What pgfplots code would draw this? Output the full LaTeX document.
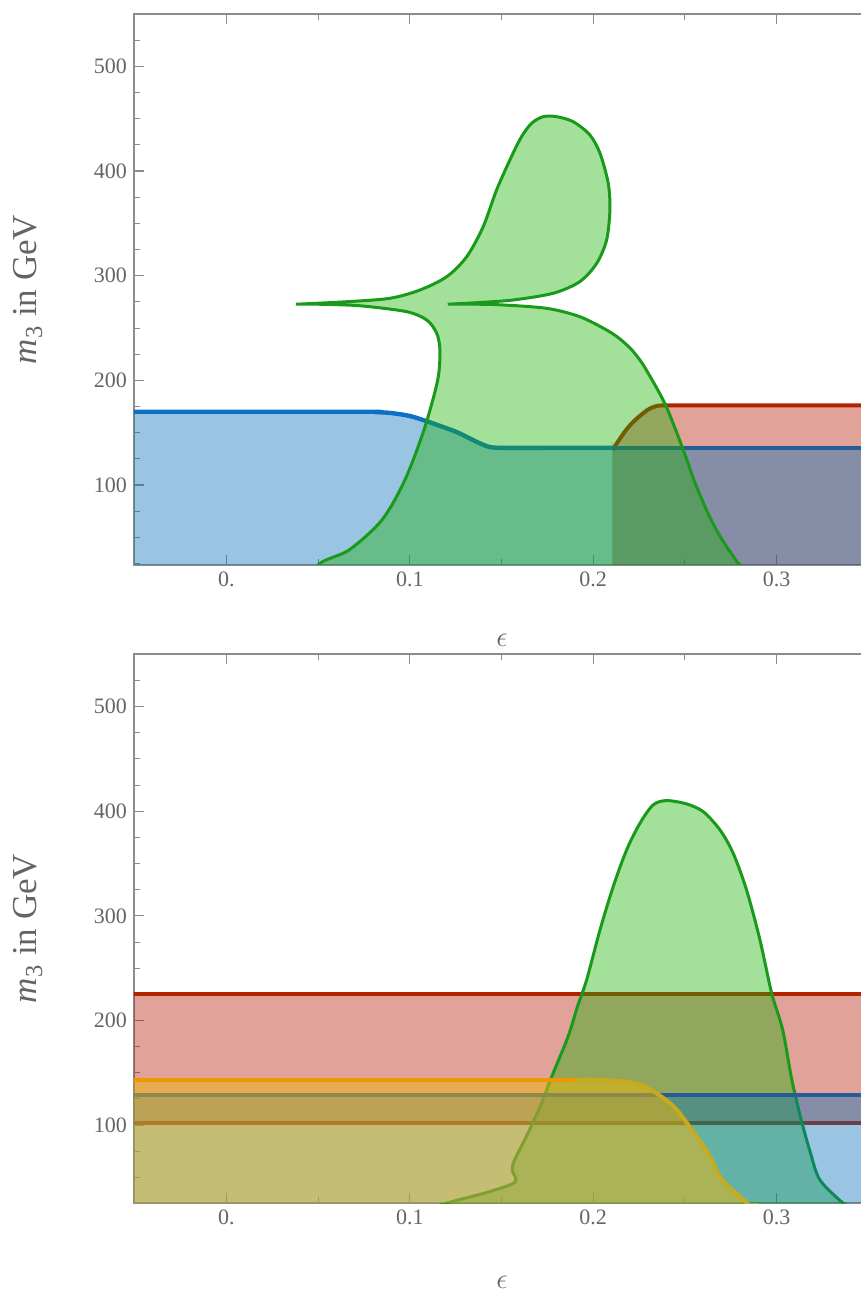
\documentclass[border=0pt]{standalone}
\usepackage{pgfplots}
\pgfplotsset{compat=1.18}
\usepackage{fontspec}
\setmainfont{Liberation Serif}
\definecolor{bF}{RGB}{0,110,185}
\definecolor{gF}{RGB}{25,177,2}
\definecolor{rF}{RGB}{178,22,0}
\definecolor{oF}{RGB}{242,182,7}
\definecolor{bL}{RGB}{15,111,198}
\definecolor{bD}{RGB}{38,92,152}
\definecolor{gL}{RGB}{26,154,26}
\definecolor{rL}{RGB}{178,36,0}
\definecolor{oL}{RGB}{236,152,0}
\definecolor{yL}{RGB}{200,170,30}
\definecolor{frm}{RGB}{140,140,140}
\definecolor{lab}{RGB}{100,100,100}
\pgfplotsset{
 myax/.style={
  scale only axis, width=376.33pt,
  xmin=-0.0504, xmax=0.36,
  xtick={0,0.1,0.2,0.3}, xticklabels={0.,0.1,0.2,0.3},
  minor xtick={-0.05,0.05,0.15,0.25,0.35},
  ytick={100,200,300,400,500}, yticklabels={100,200,300,400,500},
  minor ytick={25,50,75,125,150,175,225,250,275,325,350,375,425,450,475,525},
  axis line style={frm, line width=0.6pt},
  major tick style={frm, line width=0.6pt}, minor tick style={frm, line width=0.5pt},
  major tick length=5pt, minor tick length=3pt,
  tick label style={font=\fontsize{11}{13}\selectfont, text=lab},
  xlabel={$\epsilon$},
  ylabel={\textit{m}\textsubscript{3} in GeV},
  xlabel style={font=\fontsize{14.5}{16}\selectfont, text=lab},
  ylabel style={font=\fontsize{17.5}{19}\selectfont, text=lab, at={(axis description cs:-0.1408,0.5)}, anchor=center},
 }
}
\begin{document}
\begin{tikzpicture}
% ---------------- upper panel ----------------
\begin{axis}[myax, at={(67pt,363pt)}, anchor=south west, height=275.5pt,
  ymin=23.6, ymax=550,
  xlabel style={at={(axis description cs:0.489,-0.136)}, anchor=center}]
% red region
\addplot[draw=none, fill=rF, fill opacity=0.4, smooth] coordinates {
 (0.2105,-5) (0.2105,133.4) (0.2105,133.4) (0.2167,149.7) (0.2219,160.5) (0.2296,171.7)
 (0.2346,175.5) (0.2396,176.0) (0.27,176.0) (0.37,176.0)} \closedcycle;
\addplot[rL, line width=2pt, smooth] coordinates {
 (0.2105,133.4) (0.2167,149.7) (0.2219,160.5) (0.2296,171.7)
 (0.2346,175.5) (0.2396,176.0) (0.27,176.0) (0.37,176.0)};
% blue region
\addplot[draw=none, fill=bF, fill opacity=0.4, smooth] coordinates {
 (-0.06,170.0) (0.0744,170.0) (0.081,169.7) (0.0897,168.8) (0.1001,165.9) (0.1099,160.5)
 (0.1251,150.9) (0.1328,144.4) (0.1404,138.2) (0.1480,135.6) (0.18,135.6) (0.37,135.6)} \closedcycle;
\addplot[bL, line width=2.2pt, smooth] coordinates {
 (-0.06,170.0) (0.0744,170.0) (0.081,169.7) (0.0897,168.8) (0.1001,165.9) (0.1099,160.5)
 (0.1251,150.9) (0.1328,144.4) (0.1404,138.2) (0.1480,135.6) (0.18,135.6) (0.2105,135.6)};
\addplot[bD, line width=2.2pt] coordinates {(0.2105,135.6) (0.37,135.6)};
% green region
\addplot[draw=gL, line width=1.5pt, fill=gF, fill opacity=0.4, smooth] coordinates {
 (0.044,-5) (0.0499,23.6) (0.0668,37.9) (0.0848,66.6) (0.0973,104.8) (0.1077,152.6)
 (0.1152,200.3) (0.1164,229.0) (0.1146,245.2) (0.1092,257.7) (0.0983,265.6) (0.0744,271.0)
 (0.0564,272.5) (0.0401,272.9) (0.0401,272.9) (0.0655,275.1) (0.0891,278.4) (0.1055,286.3)
 (0.1201,299.0) (0.1310,318.1) (0.1400,346.8) (0.1473,381.9) (0.1554,413.7) (0.1609,432.8)
 (0.1664,445.6) (0.1727,451.9) (0.1800,451.9) (0.1891,447.1) (0.1982,434.4) (0.2037,416.9)
 (0.2082,388.3) (0.2091,362.8) (0.2073,334.1) (0.2019,311.8) (0.1927,294.3) (0.1782,283.2)
 (0.1564,276.8) (0.1382,274.4) (0.1228,272.9) (0.1228,272.9) (0.1473,272.3) (0.1746,268.8)
 (0.1927,260.8) (0.2073,248.1) (0.2146,239.5) (0.2211,229.0) (0.2266,216.6) (0.2315,202.2)
 (0.2358,188.9) (0.2397,175.5) (0.2435,159.2) (0.2473,142.0) (0.2511,123.9) (0.2549,104.8)
 (0.2587,88.5) (0.2625,73.2) (0.2675,56.0) (0.2729,40.7) (0.2789,25.5) (0.2805,21.7)
 (0.2835,-5)} -- cycle;
\end{axis}
% ---------------- lower panel ----------------
\begin{axis}[myax, at={(67pt,44pt)}, anchor=south west, height=274.5pt,
  ymin=25.6, ymax=550.3,
  xlabel style={at={(axis description cs:0.489,-0.144)}, anchor=center}]
% red band
\addplot[draw=none, fill=rF, fill opacity=0.4] coordinates {
 (-0.06,102.2) (0.37,102.2) (0.37,225.5) (-0.06,225.5)} -- cycle;
\addplot[rL, line width=2pt] coordinates {(-0.06,225.5) (0.37,225.5)};
\addplot[rL, line width=2pt] coordinates {(-0.06,102.2) (0.37,102.2)};
% green region
\addplot[draw=gL, line width=1.5pt, fill=gF, fill opacity=0.4, smooth] coordinates {
 (0.095,12) (0.1202,25.6) (0.1406,35.0) (0.1546,42.9) (0.1579,47.7) (0.1558,57.3)
 (0.1571,66.8) (0.1635,89.1) (0.1711,117.8) (0.1774,146.4) (0.1863,184.7) (0.1914,213.3)
 (0.1964,238.8) (0.2037,286.6) (0.2109,328.0) (0.2182,363.0) (0.2255,388.6) (0.2327,406.1)
 (0.2400,410.2) (0.2509,407.0) (0.2600,399.6) (0.2691,382.2) (0.2763,359.9) (0.2836,324.8)
 (0.2909,277.1) (0.2973,226.1) (0.3033,191.1) (0.3083,143.3) (0.3134,105.1) (0.3185,73.2)
 (0.3236,47.7) (0.3361,25.6) (0.345,15)} -- cycle;
% blue region
\addplot[draw=none, fill=bF, fill opacity=0.4] coordinates {
 (-0.06,128.9) (0.37,128.9)} \closedcycle;
\addplot[bD, line width=2pt] coordinates {(-0.06,128.9) (0.37,128.9)};
% orange region
\addplot[draw=none, fill=oF, fill opacity=0.5, smooth] coordinates {
 (-0.06,143.3) (0.15,143.3) (0.2015,143.3) (0.2168,141.7) (0.2270,137.6) (0.2372,127.3)
 (0.2448,116.2) (0.2525,98.7) (0.2626,73.2) (0.2702,47.7) (0.2838,25.6) (0.29,12)} \closedcycle;
\addplot[oL, line width=2pt] coordinates {(-0.06,143.3) (0.19,143.3)};
\addplot[yL, line width=2pt, smooth] coordinates {
 (0.19,143.3) (0.2015,143.3) (0.2168,141.7) (0.2270,137.6) (0.2372,127.3)
 (0.2448,116.2) (0.2525,98.7) (0.2626,73.2) (0.2702,47.7) (0.2838,25.6) (0.29,12)};
\end{axis}
\pgfresetboundingbox
\useasboundingbox (0,0) rectangle (430.5pt,645.5pt);
\end{tikzpicture}
\end{document}
